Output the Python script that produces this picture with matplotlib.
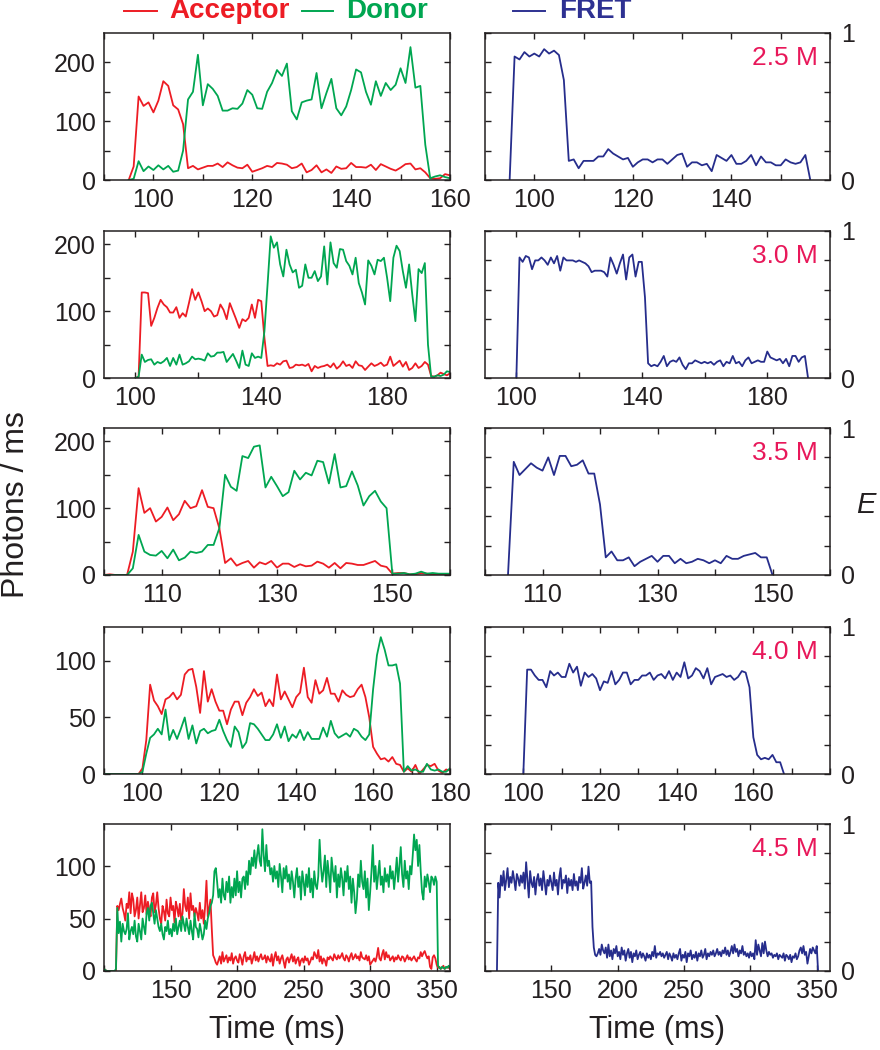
import numpy as np
import matplotlib
matplotlib.use('Agg')
from matplotlib import pyplot as plt
from matplotlib.lines import Line2D

plt.rcParams['font.family'] = ['Liberation Sans', 'DejaVu Sans']

RED = '#ED1C24'
GREEN = '#00A651'
BLUE = '#262D8C'
CONC = '#E8185A'
INK = '#231F20'

# ---------------- data (1 ms bins) ----------------
# 2.5 M
t1 = 95
acc1 = [0, 23, 142, 126, 132,
        115, 135, 168, 160, 127, 120, 95, 20, 24, 18,
        21, 24, 24, 28, 22, 30, 25, 21, 20, 26,
        14, 17, 20, 24, 22, 29, 28, 26, 20, 22,
        28, 13, 17, 25, 13, 18, 12, 23, 19, 20,
        29, 22, 22, 21, 26, 17, 27, 23, 19, 16,
        21, 27, 28, 18, 20, 13, 3, 2, 3, 10,
        8]
don1 = [0, 2, 32, 15, 23,
        17, 25, 18, 24, 14, 16, 50, 137, 150, 213,
        127, 163, 155, 143, 118, 118, 122, 121, 130, 153,
        145, 122, 121, 150, 165, 187, 177, 198, 117, 103,
        132, 135, 137, 182, 122, 148, 172, 122, 110, 125,
        153, 188, 183, 150, 128, 168, 143, 165, 153, 162,
        190, 165, 226, 157, 160, 60, 3, 6, 8, 5,
        3]
f1 = 95
fret1 = [0, 0.84, 0.82, 0.87, 0.84,
         0.86, 0.84, 0.89, 0.86, 0.88, 0.85, 0.68, 0.13, 0.14, 0.08,
         0.13, 0.13, 0.13, 0.16, 0.16, 0.21, 0.18, 0.16, 0.14, 0.15,
         0.09, 0.12, 0.14, 0.14, 0.12, 0.14, 0.14, 0.11, 0.14, 0.17,
         0.18, 0.09, 0.12, 0.12, 0.10, 0.11, 0.06, 0.17, 0.15, 0.13,
         0.17, 0.11, 0.11, 0.13, 0.17, 0.10, 0.16, 0.12, 0.12, 0.10,
         0.10, 0.14, 0.12, 0.11, 0.12, 0.17, 0.0]

# 3.0 M
t2 = 100
acc2 = [0, 2, 128, 128, 127, 78, 90, 105, 117, 110,
        106, 98, 98, 106, 90, 97, 92, 112, 133, 117,
        128, 115, 100, 104, 100, 92, 94, 110, 102, 88,
        112, 100, 88, 75, 88, 85, 90, 110, 90, 117,
        115, 60, 18, 19, 18, 22, 20, 25, 26, 15,
        16, 20, 19, 20, 18, 21, 10, 18, 15, 17,
        18, 20, 16, 22, 14, 18, 25, 18, 20, 15,
        25, 19, 18, 12, 17, 22, 18, 20, 23, 18,
        20, 32, 18, 22, 26, 17, 24, 12, 15, 22,
        15, 18, 24, 20, 3, 2, 4, 8, 6, 4,
        7]
don2 = [0, 2, 35, 24, 27, 28, 20, 24, 22, 25,
        30, 18, 30, 20, 35, 20, 22, 25, 32, 28,
        29, 28, 26, 37, 32, 33, 38, 38, 39, 24,
        30, 36, 26, 15, 41, 20, 18, 37, 30, 32,
        30, 70, 140, 212, 195, 203, 170, 152, 192, 170,
        158, 162, 135, 138, 170, 150, 150, 160, 145, 152,
        197, 140, 203, 172, 165, 193, 192, 175, 168, 155,
        180, 142, 128, 110, 176, 168, 155, 177, 175, 180,
        150, 115, 180, 198, 190, 160, 135, 170, 125, 85,
        163, 157, 172, 50, 2, 2, 4, 3, 5, 10,
        9]
f2 = 100
fret2 = [0, 0.82, 0.79, 0.83, 0.82, 0.74, 0.80, 0.80, 0.82, 0.80,
         0.77, 0.82, 0.78, 0.83, 0.73, 0.82, 0.80, 0.80, 0.80, 0.79,
         0.80, 0.79, 0.78, 0.76, 0.72, 0.73, 0.73, 0.73, 0.72, 0.69,
         0.82, 0.77, 0.71, 0.78, 0.84, 0.67, 0.82, 0.84, 0.69, 0.79,
         0.79, 0.55, 0.10, 0.08, 0.09, 0.08, 0.11, 0.15, 0.08, 0.11,
         0.12, 0.11, 0.14, 0.09, 0.06, 0.10, 0.10, 0.12, 0.11, 0.10,
         0.11, 0.10, 0.11, 0.09, 0.11, 0.12, 0.08, 0.11, 0.10, 0.15,
         0.10, 0.11, 0.08, 0.12, 0.14, 0.10, 0.11, 0.12, 0.11, 0.11,
         0.18, 0.14, 0.13, 0.12, 0.13, 0.10, 0.13, 0.08, 0.15, 0.15,
         0.11, 0.14, 0.15, 0.0]

# 3.5 M
t3 = 100
acc3 = [0, 1, 0, 0, 0, 35, 130, 93, 100, 80,
        87, 101, 82, 91, 111, 100, 103, 127, 102, 100,
        70, 18, 25, 14, 18, 21, 11, 19, 16, 21,
        11, 17, 17, 12, 16, 13, 14, 20, 17, 11,
        18, 10, 18, 17, 15, 15, 18, 21, 14, 12,
        2, 3, 3, 1, 1, 3, 2, 1, 1, 1,
        1]
don3 = [0, 0, 0, 0, 0, 10, 60, 35, 30, 29,
        36, 25, 38, 22, 26, 35, 33, 35, 45, 45,
        70, 150, 132, 126, 178, 175, 192, 194, 131, 147,
        133, 118, 124, 156, 143, 153, 149, 171, 169, 137,
        181, 131, 133, 155, 134, 104, 118, 126, 110, 100,
        2, 2, 3, 1, 2, 5, 2, 3, 2, 2,
        2]
f3 = 104
fret3 = [0, 0.77, 0.68, 0.72, 0.76, 0.73,
         0.71, 0.80, 0.68, 0.81, 0.81, 0.74, 0.75, 0.78, 0.69, 0.69,
         0.48, 0.12, 0.16, 0.10, 0.10, 0.12, 0.06, 0.09, 0.11, 0.13,
         0.09, 0.13, 0.13, 0.08, 0.11, 0.08, 0.09, 0.11, 0.10, 0.08,
         0.10, 0.08, 0.13, 0.11, 0.11, 0.13, 0.14, 0.15, 0.12, 0.12,
         0.0]

# 4.0 M
t4 = 90
acc4 = [0, 0, 0, 0, 0, 0, 0, 0, 0, 0,
        5, 30, 79, 65, 60, 53, 66, 68, 72, 66,
        70, 88, 92, 93, 77, 54, 91, 64, 75, 64,
        56, 56, 44, 57, 64, 64, 52, 63, 68, 75,
        69, 72, 60, 66, 60, 88, 66, 73, 66, 59,
        68, 72, 94, 68, 63, 83, 71, 74, 85, 71,
        71, 64, 74, 70, 68, 69, 75, 79, 68, 50,
        24, 18, 13, 14, 11, 15, 9, 8, 2, 5,
        2, 8, 0, 4, 8, 7, 9, 3, 1, 4,
        3]
don4 = [0, 0, 0, 0, 0, 0, 0, 0, 0, 0,
        2, 18, 32, 35, 40, 35, 57, 30, 39, 31,
        40, 50, 31, 43, 27, 38, 40, 36, 38, 39,
        48, 38, 30, 24, 42, 37, 23, 28, 45, 44,
        40, 35, 30, 30, 35, 44, 32, 42, 29, 35,
        32, 39, 30, 37, 31, 31, 31, 41, 33, 47,
        36, 32, 34, 36, 33, 40, 38, 33, 30, 35,
        75, 105, 121, 110, 96, 96, 97, 80, 2, 7,
        3, 4, 2, 2, 9, 4, 3, 4, 2, 2,
        5]
f4 = 100
fret4 = [0, 0.71, 0.71, 0.67, 0.64, 0.64, 0.59, 0.70, 0.67, 0.69,
         0.66, 0.66, 0.75, 0.69, 0.73, 0.60, 0.69, 0.66, 0.68, 0.65,
         0.57, 0.63, 0.62, 0.70, 0.61, 0.64, 0.69, 0.69, 0.61, 0.64,
         0.64, 0.67, 0.67, 0.69, 0.64, 0.67, 0.68, 0.65, 0.70, 0.64,
         0.69, 0.66, 0.76, 0.65, 0.67, 0.72, 0.70, 0.65, 0.72, 0.61,
         0.66, 0.67, 0.68, 0.66, 0.67, 0.64, 0.66, 0.70, 0.69, 0.59,
         0.25, 0.13, 0.10, 0.11, 0.10, 0.13, 0.08, 0.08, 0.0]

# 4.5 M
t5 = 100
acc5 = [2, 1, 0, 0, 0, 0, 0, 0, 0, 0,
        62, 58, 64, 69, 60, 55, 48, 64, 60, 75,
        55, 74, 68, 52, 58, 70, 50, 62, 75, 56,
        60, 72, 54, 66, 58, 52, 70, 74, 56, 63,
        75, 60, 50, 45, 62, 57, 48, 68, 55, 52,
        70, 58, 62, 46, 66, 60, 52, 64, 48, 55,
        78, 62, 57, 70, 50, 74, 58, 62, 52, 60,
        55, 48, 65, 50, 58, 45, 62, 86, 52, 60,
        68, 40, 15, 12, 8, 6, 10, 14, 7, 18,
        9, 12, 15, 8, 13, 10, 17, 7, 12, 14,
        10, 8, 16, 12, 6, 14, 18, 9, 13, 11,
        15, 7, 12, 18, 10, 14, 9, 13, 16, 11,
        12, 15, 8, 14, 11, 9, 16, 5, 13, 18,
        10, 14, 7, 12, 15, 9, 3, 11, 13, 8,
        12, 16, 9, 14, 7, 11, 13, 5, 10, 12,
        8, 14, 10, 12, 6, 9, 13, 11, 18, 15,
        12, 20, 9, 14, 7, 12, 10, 5, 13, 11,
        14, 12, 10, 16, 13, 11, 15, 12, 14, 17,
        12, 10, 15, 13, 9, 14, 17, 11, 13, 16,
        12, 14, 10, 18, 13, 12, 11, 15, 10, 14,
        6, 8, 10, 12, 9, 14, 22, 12, 10, 16,
        20, 11, 18, 13, 15, 10, 12, 14, 9, 13,
        11, 15, 12, 10, 14, 13, 9, 12, 15, 11,
        13, 10, 12, 14, 11, 9, 13, 12, 18, 14,
        17, 19, 15, 12, 14, 4, 2, 13, 15, 12,
        6, 3, 4, 2, 3, 5, 2, 3, 4, 3,
        2]
don5 = [2, 1, 0, 0, 0, 0, 0, 0, 0, 2,
        60, 36, 47, 28, 45, 38, 35, 40, 55, 30,
        38, 42, 35, 48, 33, 28, 45, 38, 30, 50,
        42, 35, 55, 60, 48, 62, 65, 55, 45, 58,
        50, 42, 38, 45, 35, 30, 42, 38, 48, 35,
        40, 33, 45, 38, 50, 35, 42, 48, 38, 52,
        45, 38, 50, 42, 35, 48, 38, 30, 55, 42,
        40, 32, 45, 38, 30, 35, 48, 40, 50, 55,
        62, 65, 72, 95, 98, 85, 70, 78, 65, 88,
        72, 68, 85, 75, 90, 65, 80, 70, 88, 72,
        95, 75, 85, 70, 88, 90, 78, 95, 82, 105,
        92, 108, 100, 115, 98, 110, 120, 105, 100, 135,
        110, 95, 120, 100, 105, 92, 98, 85, 100, 88,
        95, 80, 102, 90, 75, 98, 88, 100, 85, 92,
        78, 95, 85, 70, 88, 98, 80, 90, 68, 95,
        85, 72, 92, 80, 98, 75, 88, 70, 95, 82,
        78, 90, 125, 100, 85, 95, 110, 80, 105, 92,
        75, 108, 95, 85, 100, 70, 92, 80, 98, 88,
        72, 95, 85, 100, 78, 90, 65, 88, 75, 55,
        68, 92, 80, 105, 85, 78, 95, 70, 88, 58,
        75, 95, 120, 85, 100, 78, 92, 105, 82, 90,
        75, 98, 85, 92, 80, 100, 88, 95, 78, 92,
        108, 85, 100, 118, 92, 80, 105, 88, 95, 78,
        100, 92, 110, 130, 115, 125, 100, 120, 95, 75,
        68, 90, 80, 92, 85, 75, 90, 88, 82, 90,
        85, 5, 3, 2, 4, 3, 2, 4, 3, 5,
        3]
f5 = 109
fret5 = [0,
         0.60, 0.50, 0.65, 0.58, 0.68, 0.55, 0.62, 0.70, 0.57, 0.64,
         0.60, 0.68, 0.62, 0.55, 0.66, 0.63, 0.58, 0.65, 0.60, 0.67,
         0.56, 0.74, 0.62, 0.50, 0.68, 0.60, 0.57, 0.64, 0.52, 0.62,
         0.66, 0.58, 0.63, 0.55, 0.68, 0.60, 0.52, 0.62, 0.58, 0.65,
         0.60, 0.55, 0.67, 0.58, 0.62, 0.52, 0.64, 0.70, 0.56, 0.62,
         0.60, 0.65, 0.53, 0.63, 0.58, 0.62, 0.55, 0.66, 0.58, 0.61,
         0.55, 0.64, 0.60, 0.70, 0.56, 0.60, 0.65, 0.58, 0.71, 0.60,
         0.61, 0.30, 0.16, 0.11, 0.10, 0.12, 0.15, 0.11, 0.18, 0.14,
         0.12, 0.16, 0.09, 0.18, 0.10, 0.14, 0.08, 0.15, 0.12, 0.17,
         0.10, 0.13, 0.08, 0.16, 0.11, 0.14, 0.07, 0.12, 0.15, 0.09,
         0.13, 0.06, 0.12, 0.10, 0.14, 0.08, 0.11, 0.13, 0.09, 0.12,
         0.10, 0.07, 0.12, 0.09, 0.11, 0.08, 0.13, 0.10, 0.17, 0.09,
         0.12, 0.11, 0.13, 0.10, 0.12, 0.09, 0.11, 0.13, 0.08, 0.12,
         0.10, 0.07, 0.12, 0.09, 0.11, 0.08, 0.12, 0.15, 0.07, 0.11,
         0.09, 0.13, 0.06, 0.12, 0.10, 0.14, 0.08, 0.11, 0.09, 0.13,
         0.07, 0.12, 0.10, 0.14, 0.09, 0.11, 0.15, 0.08, 0.12, 0.10,
         0.13, 0.11, 0.14, 0.10, 0.12, 0.15, 0.11, 0.13, 0.10, 0.14,
         0.12, 0.16, 0.11, 0.14, 0.10, 0.13, 0.17, 0.12, 0.18, 0.13,
         0.15, 0.10, 0.14, 0.12, 0.17, 0.11, 0.13, 0.10, 0.12, 0.09,
         0.13, 0.10, 0.12, 0.08, 0.21, 0.11, 0.18, 0.14, 0.10, 0.19,
         0.12, 0.20, 0.14, 0.10, 0.13, 0.11, 0.12, 0.09, 0.11, 0.10,
         0.12, 0.08, 0.11, 0.10, 0.09, 0.12, 0.07, 0.11, 0.10, 0.08,
         0.11, 0.06, 0.10, 0.09, 0.12, 0.08, 0.10, 0.14, 0.16, 0.12,
         0.17, 0.11, 0.13, 0.05, 0.10, 0.15, 0.12, 0.16, 0.14, 0.12,
         0.17, 0.0]

concs = ['2.5 M', '3.0 M', '3.5 M', '4.0 M', '4.5 M']

# axis settings per row
xlims = [(90, 160), (90, 200), (100, 160), (90, 180), (100, 360)]
xticks = [range(90, 161, 10), range(100, 201, 20), range(100, 161, 10),
          range(90, 181, 10), range(100, 361, 50)]
xlab_left = [[100, 120, 140, 160], [100, 140, 180], [110, 130, 150],
             [100, 120, 140, 160, 180], [150, 200, 250, 300, 350]]
xlab_right = [[100, 120, 140], [100, 140, 180], [110, 130, 150],
              [100, 120, 140, 160], [150, 200, 250, 300, 350]]
ylims = [250, 220, 220, 130, 140]
yticks = [[0, 50, 100, 150, 200], [0, 50, 100, 150, 200], [0, 50, 100, 150, 200],
          [0, 50, 100], [0, 50, 100]]
ylabs = [[0, 100, 200], [0, 100, 200], [0, 100, 200], [0, 50, 100], [0, 50, 100]]

rows = [(t1, acc1, don1, f1, fret1), (t2, acc2, don2, f2, fret2),
        (t3, acc3, don3, f3, fret3), (t4, acc4, don4, f4, fret4),
        (t5, acc5, don5, f5, fret5)]

W, H = 880, 1050
fig = plt.figure(figsize=(W / 100, H / 100), dpi=100)

tops = [33, 231, 428, 627, 824]
hgt = 147


def style(ax):
    for s in ax.spines.values():
        s.set_linewidth(1.1)
        s.set_color(INK)
    ax.tick_params(direction='in', length=4, width=1, colors=INK,
                   top=True, right=True, left=True, bottom=True,
                   labelsize=18, pad=6)


def fmt(ticks, shown):
    return [str(t) if t in shown else '' for t in ticks]


for i, (ta, acc, don, tf, fret) in enumerate(rows):
    y0 = 1 - (tops[i] + hgt) / H
    axl = fig.add_axes([104 / W, y0, 346 / W, hgt / H])
    axr = fig.add_axes([485 / W, y0, 345 / W, hgt / H])

    t = np.arange(ta, ta + len(acc))
    axl.plot(t, acc, color=RED, lw=1.3)
    axl.plot(t, don, color=GREEN, lw=1.3)
    tt = np.arange(tf, tf + len(fret))
    axr.plot(tt, fret, color=BLUE, lw=1.3)

    for ax, lab in ((axl, xlab_left[i]), (axr, xlab_right[i])):
        style(ax)
        ax.set_xlim(*xlims[i])
        ax.set_xticks(list(xticks[i]))
        ax.set_xticklabels(fmt(list(xticks[i]), lab))

    axl.set_ylim(0, ylims[i])
    axl.set_yticks(yticks[i])
    axl.set_yticklabels(fmt(yticks[i], ylabs[i]))

    axr.set_ylim(0, 1)
    ev = [0, 0.2, 0.4, 0.6, 0.8, 1.0]
    axr.set_yticks(ev)
    axr.set_yticklabels(['0', '', '', '', '', '1'])
    axr.tick_params(axis='y', labelleft=False, labelright=True, pad=8)

    axr.text(0.965, 0.83, concs[i], transform=axr.transAxes, ha='right',
             va='center', color=CONC, fontsize=19)

# legend row
def legend_item(x0, x1, xt, label, color):
    fig.add_artist(Line2D([x0 / W, x1 / W], [1 - 11 / H, 1 - 11 / H],
                          color=color, lw=1.4))
    fig.text(xt / W, 1 - 11 / H, label, color=color, fontsize=20,
             fontweight='bold', ha='left', va='center')


legend_item(124, 157, 169, 'Acceptor', RED)
legend_item(302, 333, 346, 'Donor', GREEN)
legend_item(513, 545, 559, 'FRET', '#2E3192')

fig.text(16 / W, 1 - 505 / H, 'Photons / ms', rotation=90, ha='center',
         va='center', fontsize=23, color=INK)
fig.text(866 / W, 1 - 505 / H, 'E', style='italic', ha='center',
         va='center', fontsize=21, color=INK)
fig.text(277 / W, 1 - 1030 / H, 'Time (ms)', ha='center', va='center',
         fontsize=22, color=INK)
fig.text(657 / W, 1 - 1030 / H, 'Time (ms)', ha='center', va='center',
         fontsize=22, color=INK)

fig.savefig('out.png', dpi=100)
